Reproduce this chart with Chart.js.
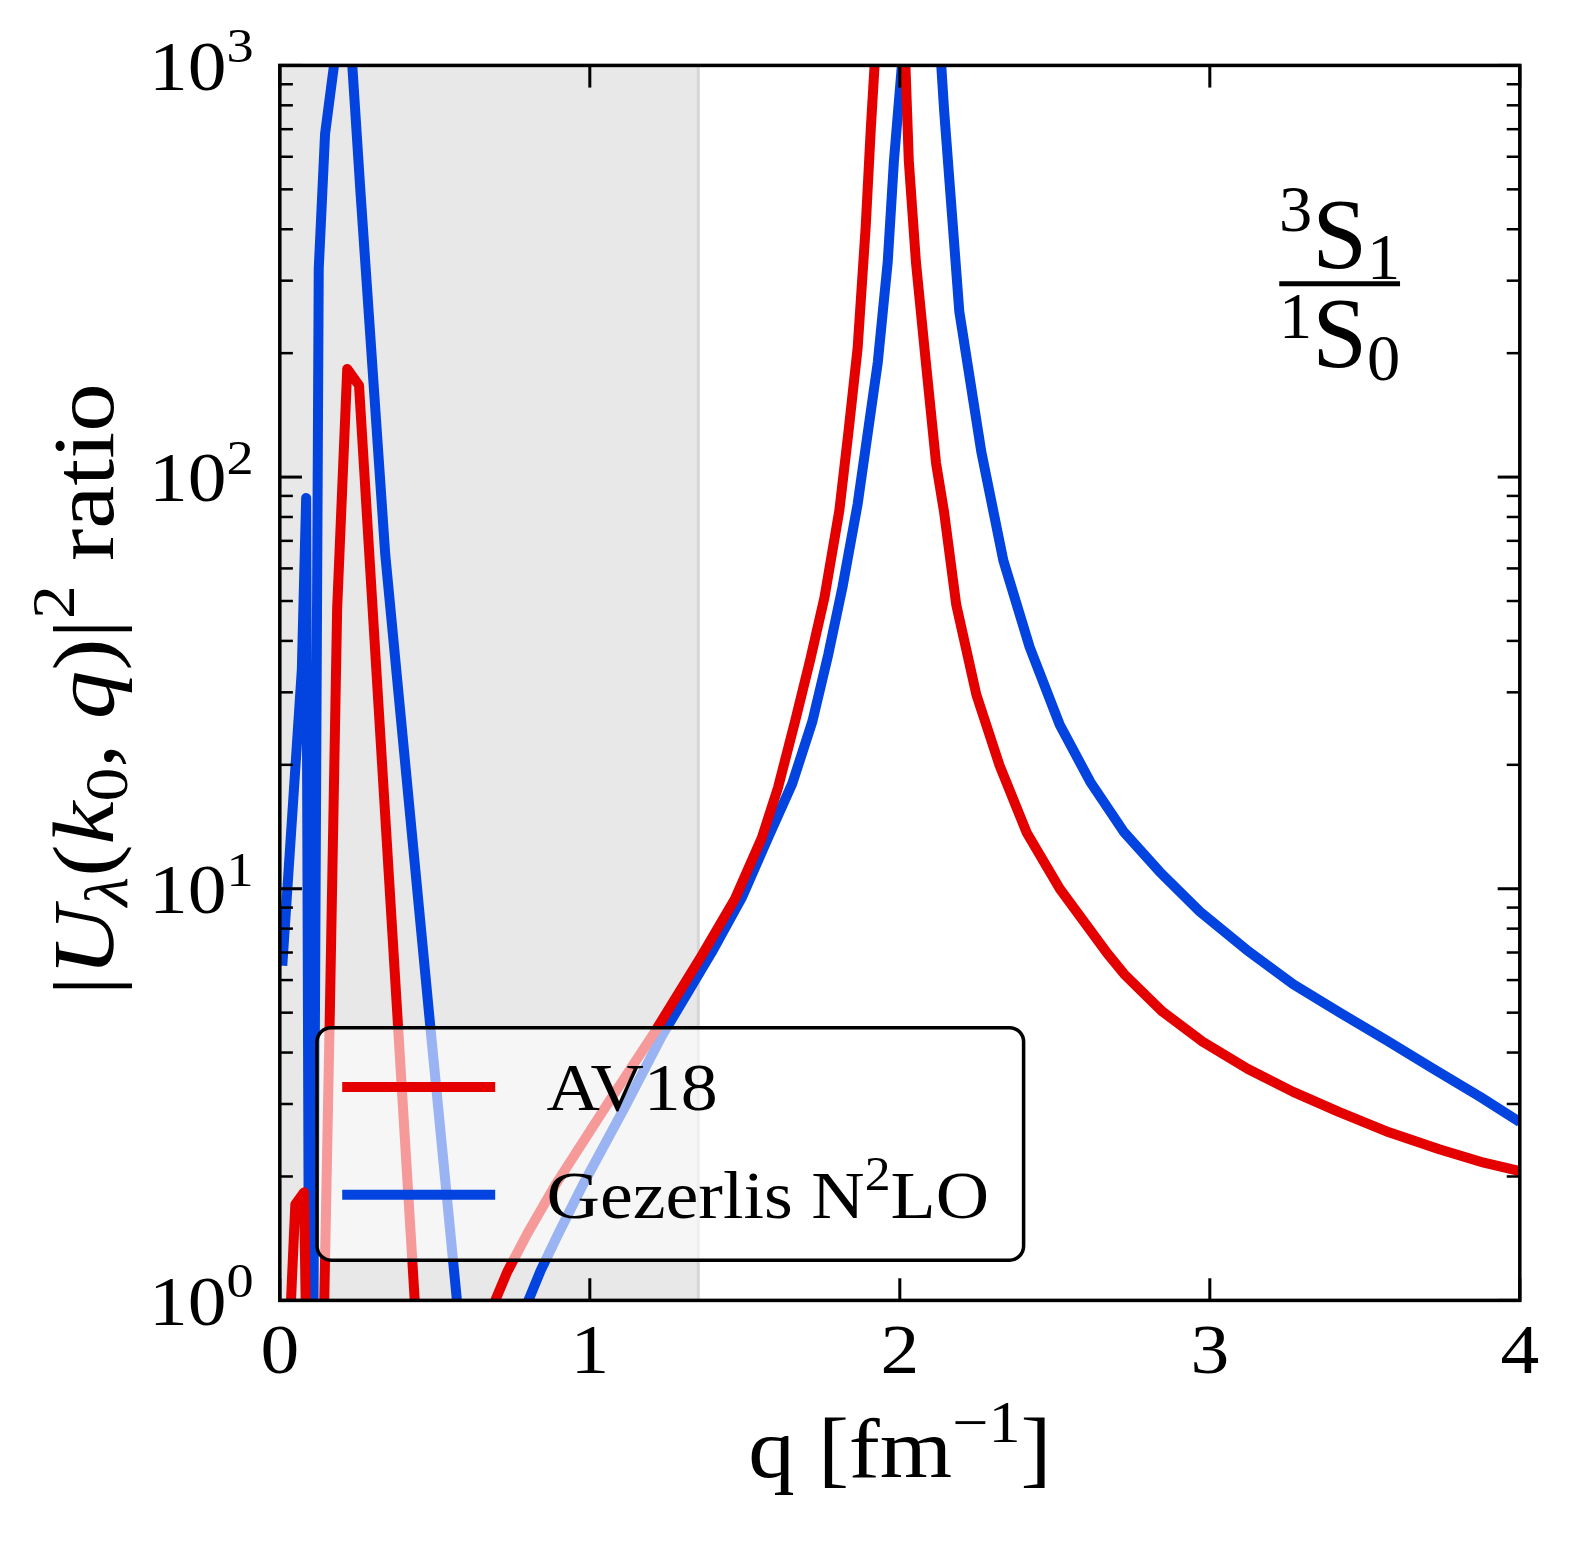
<!DOCTYPE html>
<html>
<head>
<meta charset="utf-8">
<script src="https://cdn.jsdelivr.net/npm/chart.js@4.4.1/dist/chart.umd.min.js"></script>
<style>
  html, body { margin: 0; padding: 0; background: #fff; overflow: hidden; }
  canvas { display: block; }
</style>
</head>
<body>
<canvas id="myChart" width="1578" height="1543"></canvas>
<script>
// values (q in fm^-1, |U|^2 ratio)
const av18Q = [0.005, 0.05, 0.078, 0.11, 0.162, 0.185, 0.2175, 0.2555, 0.48, 0.56, 0.63,
  0.695, 0.734, 0.8, 0.893, 1.055, 1.208, 1.36, 1.468, 1.555, 1.607, 1.662, 1.711, 1.757,
  1.805, 1.834, 1.864, 1.89, 1.906, 1.95, 1.99, 2.029, 2.052, 2.084, 2.117, 2.143, 2.182,
  2.247, 2.321, 2.409, 2.516, 2.669, 2.724, 2.847, 2.977, 3.123, 3.269, 3.416, 3.578,
  3.74, 3.884, 4.0];
const av18Ratio = [0.3, 1.71, 1.83, 0.05, 5.3, 48, 183, 167, 0.28, 0.15, 0.7,
  1.0, 1.175, 1.46, 1.93, 2.985, 4.47, 6.86, 9.44, 13.3, 17.6, 25.5, 36, 51,
  83, 128, 206, 406, 693, 2500, 4000, 586, 333, 190, 108, 82, 49,
  29.6, 20, 13.7, 10.0, 6.97, 6.2, 5.03, 4.25, 3.65, 3.21, 2.87, 2.56,
  2.33, 2.16, 2.06];

const gezQ = [0.008, 0.071, 0.085, 0.1, 0.1256, 0.146, 0.174, 0.214, 0.26, 0.34, 0.487,
  0.6, 0.68, 0.75, 0.802, 0.841, 0.9, 0.981, 1.11, 1.231, 1.393, 1.49, 1.575, 1.653, 1.718,
  1.769, 1.815, 1.864, 1.929, 1.961, 1.981, 2.04, 2.1, 2.143, 2.192, 2.263, 2.334,
  2.419, 2.516, 2.614, 2.724, 2.838, 2.968, 3.119, 3.269, 3.42, 3.571, 3.722, 3.873, 4.0];
const gezRatio = [6.5, 34, 89, 0.05, 321, 682, 990, 1700, 495, 65, 4.5,
  0.6, 0.35, 0.72, 1.0, 1.18, 1.46, 1.93, 2.92, 4.37, 7.0, 9.5, 13.3, 18, 25.5,
  37, 54, 86, 190, 333, 586, 2000, 2500, 776, 252, 115, 62.7,
  38.6, 25.0, 18.2, 13.7, 11.0, 8.8, 7.1, 5.86, 5.0, 4.28, 3.65, 3.12, 2.71];

const xTicks = [0, 1, 2, 3, 4];
const yTicks = [1, 10, 100, 1000];
const yTickExp = ['0', '1', '2', '3'];
const qShade = 1.35;

const FAM = '"Liberation Serif", "DejaVu Serif", serif';
// the photo comes out a touch smaller than the canvas, so lay out slightly larger
const K = 1.0065;

// draw a row of text pieces (sub/superscripts via dy), stretched a bit to mimic CM widths
function drawRuns(ctx, parts, x, y, align, sx) {
  sx = sx || 1.1;
  const fontOf = p => (p.it ? 'italic ' : '') + p.size + 'px ' + FAM;
  let w = 0;
  for (const p of parts) { ctx.font = fontOf(p); w += ctx.measureText(p.t).width; }
  let cx = align === 'center' ? -w / 2 : align === 'right' ? -w : 0;
  ctx.save();
  ctx.translate(x, y);
  ctx.scale(sx, 1);
  ctx.textAlign = 'left';
  ctx.textBaseline = 'alphabetic';
  for (const p of parts) {
    ctx.font = fontOf(p);
    ctx.fillText(p.t, cx, p.dy || 0);
    cx += ctx.measureText(p.t).width;
  }
  ctx.restore();
}

function labelRuns(label, size) {
  const bits = label.split('²');
  const out = [];
  bits.forEach((b, i) => {
    if (i > 0) out.push({ t: '2', size: size * 0.7, dy: -size * 0.4 });
    if (b) out.push({ t: b, size: size });
  });
  return out;
}

// chart area in the K-scaled drawing space
function area(chart) {
  const a = chart.chartArea;
  return { left: a.left / K, right: a.right / K, top: a.top / K, bottom: a.bottom / K };
}

const decor = {
  id: 'decor',
  beforeDatasetsDraw(chart) {
    const { ctx, scales: { x } } = chart;
    const a = area(chart);
    const xr = x.getPixelForValue(qShade) / K;
    ctx.save();
    ctx.scale(K, K);
    ctx.fillStyle = '#e8e8e8';
    ctx.fillRect(a.left, a.top, xr - a.left, a.bottom - a.top);
    ctx.strokeStyle = '#d6d6d6';
    ctx.lineWidth = 3;
    ctx.beginPath();
    ctx.moveTo(xr, a.top);
    ctx.lineTo(xr, a.bottom);
    ctx.stroke();
    ctx.restore();
  },
  afterDatasetsDraw(chart) {
    const { ctx } = chart;
    const a = area(chart);
    // legend box, lower left
    const bx = a.left + 37, by = a.top + 956, bw = 702, bh = 231, r = 14;
    ctx.save();
    ctx.scale(K, K);
    ctx.beginPath();
    ctx.roundRect(bx, by, bw, bh, r);
    ctx.fillStyle = 'rgba(255,255,255,0.6)';
    ctx.fill();
    ctx.lineWidth = 3.5;
    ctx.strokeStyle = '#000';
    ctx.stroke();
    chart.data.datasets.forEach((ds, i) => {
      const ly = by + 59 + i * 107;
      ctx.strokeStyle = ds.borderColor;
      ctx.lineWidth = 10;
      ctx.lineCap = 'butt';
      ctx.beginPath();
      ctx.moveTo(bx + 25, ly);
      ctx.lineTo(bx + 177, ly);
      ctx.stroke();
      ctx.fillStyle = '#000';
      drawRuns(ctx, labelRuns(ds.label, 68), bx + 228, ly + 23, 'left', 1.08);
    });
    ctx.restore();
  },
  afterDraw(chart) {
    const { ctx, scales: { x, y } } = chart;
    const a = area(chart);
    const px = v => x.getPixelForValue(v) / K;
    const py = v => y.getPixelForValue(v) / K;
    ctx.save();
    ctx.scale(K, K);
    ctx.strokeStyle = '#000';
    ctx.fillStyle = '#000';
    // ticks, inward on all sides
    const tick = (x0, y0, x1, y1, w) => {
      ctx.lineWidth = w;
      ctx.beginPath();
      ctx.moveTo(x0, y0);
      ctx.lineTo(x1, y1);
      ctx.stroke();
    };
    xTicks.forEach(v => {
      tick(px(v), a.bottom, px(v), a.bottom - 22, 3);
      tick(px(v), a.top, px(v), a.top + 22, 3);
    });
    for (let d = 0; d < yTicks.length; d++) {
      const yy = py(yTicks[d]);
      tick(a.left, yy, a.left + 22, yy, 3);
      tick(a.right, yy, a.right - 22, yy, 3);
      if (d < yTicks.length - 1) {
        for (let m = 2; m <= 9; m++) {
          const pm = py(yTicks[d] * m);
          tick(a.left, pm, a.left + 13, pm, 2.5);
          tick(a.right, pm, a.right - 13, pm, 2.5);
        }
      }
    }
    // frame
    ctx.lineWidth = 3.5;
    ctx.strokeRect(a.left, a.top, a.right - a.left, a.bottom - a.top);

    // tick labels
    xTicks.forEach(v => {
      drawRuns(ctx, [{ t: String(v), size: 70 }], px(v), a.bottom + 72, 'center');
    });
    yTicks.forEach((v, i) => {
      drawRuns(ctx, [{ t: '10', size: 70 }, { t: yTickExp[i], size: 49, dy: -27 }],
        a.left - 26, py(v) + 24, 'right');
    });

    // axis titles
    drawRuns(ctx, [
      { t: 'q [fm', size: 84 },
      { t: '\u22121', size: 58, dy: -34 },
      { t: ']', size: 84 }
    ], (a.left + a.right) / 2, a.bottom + 175, 'center');

    ctx.save();
    ctx.translate(112, 685);
    ctx.rotate(-Math.PI / 2);
    drawRuns(ctx, [
      { t: '|', size: 86 },
      { t: 'U', size: 86, it: true },
      { t: '\u03bb', size: 60, it: true, dy: 14 },
      { t: '(', size: 86 },
      { t: 'k', size: 86, it: true },
      { t: '0', size: 60, dy: 14 },
      { t: ', ', size: 86 },
      { t: 'q', size: 86, it: true },
      { t: ')|', size: 86 },
      { t: '2', size: 60, dy: -38 },
      { t: ' ratio', size: 86 }
    ], 0, 0, 'center', 1.12);
    ctx.restore();

    // channel annotation  3S1 / 1S0
    const cx = a.right - 179;
    drawRuns(ctx, [
      { t: '3', size: 66, dy: -35 },
      { t: 'S', size: 98 },
      { t: '1', size: 66, dy: 12 }
    ], cx, 265, 'center', 1.0);
    ctx.lineWidth = 5;
    ctx.beginPath();
    ctx.moveTo(cx - 60, 282);
    ctx.lineTo(cx + 60, 282);
    ctx.stroke();
    drawRuns(ctx, [
      { t: '1', size: 66, dy: -28 },
      { t: 'S', size: 98 },
      { t: '0', size: 66, dy: 14 }
    ], cx, 364, 'center', 1.0);
    ctx.restore();
  }
};

const ctx = document.getElementById('myChart');

const chart = new Chart(ctx, {
  type: 'line',
  data: {
    datasets: [{
      label: 'AV18',
      data: av18Q.map((q, i) => ({ x: q, y: av18Ratio[i] })),
      borderColor: '#e50000',
      borderWidth: 10,
      clip: 0
    }, {
      label: 'Gezerlis N²LO',
      data: gezQ.map((q, i) => ({ x: q, y: gezRatio[i] })),
      borderColor: '#0343df',
      borderWidth: 10,
      clip: 0
    }]
  },
  options: {
    responsive: false,
    animation: false,
    devicePixelRatio: 1,
    layout: {
      padding: { left: 278 * K, right: 1578 - 1510 * K, top: 65 * K, bottom: 1543 - 1292 * K }
    },
    elements: {
      point: { radius: 0, hoverRadius: 0 },
      line: { tension: 0, borderJoinStyle: 'round', borderCapStyle: 'butt', fill: false }
    },
    scales: {
      x: { type: 'linear', min: 0, max: 4, display: false },
      y: { type: 'logarithmic', min: 1, max: 1000, display: false }
    },
    plugins: {
      legend: { display: false },
      tooltip: { enabled: false }
    }
  },
  plugins: [decor]
});
</script>
</body>
</html>
